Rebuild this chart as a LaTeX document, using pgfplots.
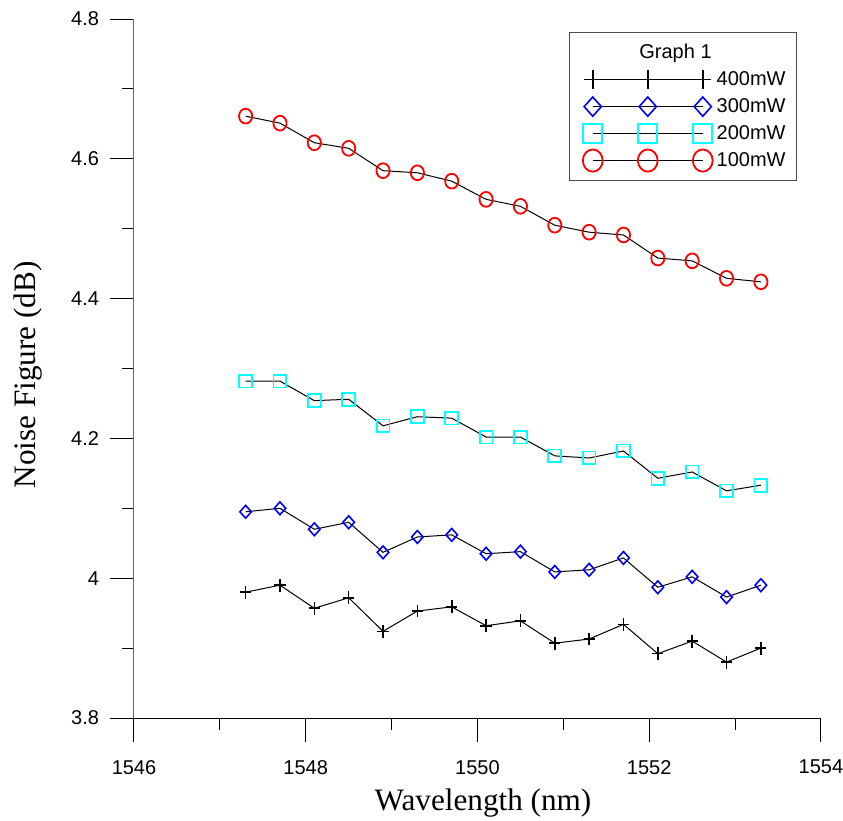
\documentclass[border=0pt]{standalone}
\usepackage{pgfplots}
\pgfplotsset{compat=1.18}
\usepackage{fontspec}
\setmainfont{Liberation Sans}
\newfontfamily\timesfont{Liberation Serif}
\definecolor{cRed}{RGB}{255,0,0}
\definecolor{cBlue}{RGB}{0,0,255}
\definecolor{cCyan}{RGB}{0,255,255}
\begin{document}
\begin{tikzpicture}
\useasboundingbox (-67pt,-51.5pt) rectangle (354.5pt,359pt);
\begin{axis}[
 at={(0,0)}, anchor=south west,
 scale only axis, width=343.5pt, height=349.5pt,
 xmin=1546, xmax=1554, ymin=3.8, ymax=4.8,
 axis x line=bottom, axis y line=left, axis line style={-, line width=0.5pt},
 y axis line style={black!60},
 tick align=outside,
 xtick={1546,1548,1550,1552,1554}, ytick={3.8,4,4.2,4.4,4.6,4.8},
 minor x tick num=1, minor y tick num=1,
 major tick length=12pt, minor tick length=6pt,
 tick style={black, line width=0.5pt},
 /pgf/number format/assume math mode=true,
 /pgf/number format/1000 sep={},
 ticklabel style={font=\fontsize{10}{12}\selectfont},
 xticklabel style={yshift=-5.5pt},
 yticklabel style={xshift=-2pt},
 xlabel={Wavelength (nm)}, ylabel={Noise Figure (dB)},
 label style={font=\timesfont\fontsize{15.6}{18}\selectfont},
 xlabel style={at={([yshift=-42.5pt]axis description cs:0.508,0)}, anchor=center},
 ylabel style={at={([xshift=-53pt]axis description cs:0,0.491)}, anchor=center},
 legend cell align=left,
 legend image code/.code={\path (-8pt,0pt); \draw[every mark/.append style={scale=1.5}] plot coordinates {(0pt,0pt) (27.5pt,0pt) (55pt,0pt)};},
 legend style={at={(0.633,0.981)}, anchor=north west, draw=black!70, fill=white,
   font=\fontsize{10}{12}\selectfont, inner xsep=3.5pt, inner ysep=3.5pt,
   row sep=1pt, column sep=0pt},
]
\addlegendimage{empty legend}\addlegendentry{\llap{Graph 1\hspace{2.5pt}}}
\addplot[black, line width=0.5pt, mark=+, mark size=2.8pt, mark options={black, line width=0.8pt, yscale=1.15}] coordinates {
(1547.3,3.980)(1547.7,3.990)(1548.1,3.957)(1548.5,3.972)(1548.9,3.924)(1549.3,3.953)(1549.7,3.959)(1550.1,3.932)
(1550.5,3.939)(1550.9,3.907)(1551.3,3.913)(1551.7,3.934)(1552.1,3.892)(1552.5,3.910)(1552.9,3.880)(1553.3,3.900)};
\addlegendentry{400mW}
\addplot[black, line width=0.5pt, mark=diamond, mark size=3.2pt, mark options={cBlue, line width=0.8pt, xscale=1.2}] coordinates {
(1547.3,4.095)(1547.7,4.100)(1548.1,4.070)(1548.5,4.080)(1548.9,4.037)(1549.3,4.059)(1549.7,4.062)(1550.1,4.035)
(1550.5,4.038)(1550.9,4.009)(1551.3,4.012)(1551.7,4.029)(1552.1,3.987)(1552.5,4.002)(1552.9,3.973)(1553.3,3.990)};
\addlegendentry{300mW}
\addplot[black, line width=0.5pt, mark=square, mark size=3.2pt, mark options={cCyan, line width=0.9pt}] coordinates {
(1547.3,4.282)(1547.7,4.282)(1548.1,4.254)(1548.5,4.256)(1548.9,4.218)(1549.3,4.231)(1549.7,4.229)(1550.1,4.202)
(1550.5,4.202)(1550.9,4.175)(1551.3,4.172)(1551.7,4.182)(1552.1,4.143)(1552.5,4.152)(1552.9,4.125)(1553.3,4.133)};
\addlegendentry{200mW}
\addplot[black, line width=0.5pt, mark=o, mark size=3.3pt, mark options={cRed, line width=0.9pt, yscale=1.12}] coordinates {
(1547.3,4.661)(1547.7,4.651)(1548.1,4.623)(1548.5,4.615)(1548.9,4.583)(1549.3,4.580)(1549.7,4.568)(1550.1,4.542)
(1550.5,4.532)(1550.9,4.505)(1551.3,4.495)(1551.7,4.491)(1552.1,4.458)(1552.5,4.454)(1552.9,4.429)(1553.3,4.424)};
\addlegendentry{100mW}
\end{axis}
\end{tikzpicture}
\end{document}
